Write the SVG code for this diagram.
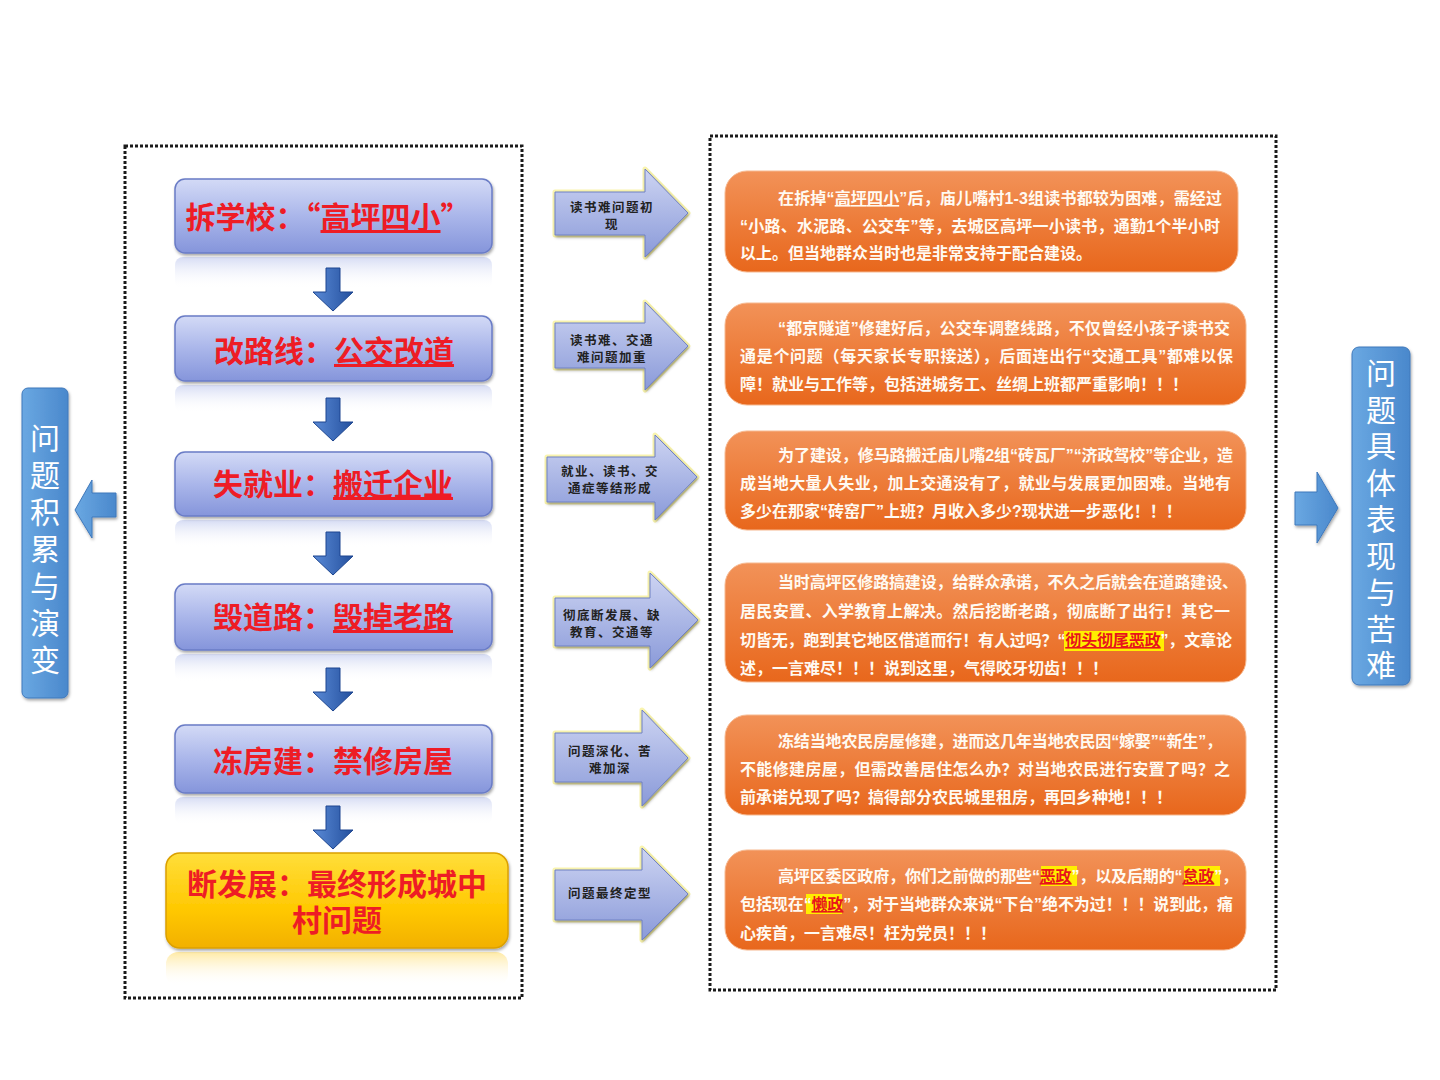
<svg xmlns="http://www.w3.org/2000/svg" width="1440" height="1080" viewBox="0 0 1440 1080">
<defs>
  <linearGradient id="gBlue" x1="0" y1="0" x2="0" y2="1">
    <stop offset="0" stop-color="#d3daf6"/>
    <stop offset="0.5" stop-color="#aab6ea"/>
    <stop offset="1" stop-color="#8595db"/>
  </linearGradient>
  <linearGradient id="gRefl" x1="0" y1="0" x2="0" y2="1">
    <stop offset="0" stop-color="#b4bfeb" stop-opacity="0.55"/>
    <stop offset="1" stop-color="#ffffff" stop-opacity="0"/>
  </linearGradient>
  <linearGradient id="gReflY" x1="0" y1="0" x2="0" y2="1">
    <stop offset="0" stop-color="#ffd54a" stop-opacity="0.5"/>
    <stop offset="1" stop-color="#ffffff" stop-opacity="0"/>
  </linearGradient>
  <linearGradient id="gYellow" x1="0" y1="0" x2="0" y2="1">
    <stop offset="0" stop-color="#ffde3a"/>
    <stop offset="0.6" stop-color="#ffc800"/>
    <stop offset="1" stop-color="#f2b000"/>
  </linearGradient>
  <linearGradient id="gOrange" x1="0" y1="0" x2="0" y2="1">
    <stop offset="0" stop-color="#f29258"/>
    <stop offset="1" stop-color="#e8671c"/>
  </linearGradient>
  <linearGradient id="gArrow" x1="0" y1="0" x2="0" y2="1">
    <stop offset="0" stop-color="#cdd4f2"/>
    <stop offset="1" stop-color="#8a9ad9"/>
  </linearGradient>
  <linearGradient id="gDown" x1="0" y1="0" x2="1" y2="0">
    <stop offset="0" stop-color="#5a8ad6"/>
    <stop offset="1" stop-color="#24509e"/>
  </linearGradient>
  <linearGradient id="gSide" x1="0" y1="0" x2="1" y2="0">
    <stop offset="0" stop-color="#6aa8e2"/>
    <stop offset="1" stop-color="#4a88cc"/>
  </linearGradient>
  <filter id="sh" x="-10%" y="-10%" width="130%" height="140%">
    <feDropShadow dx="1" dy="2" stdDeviation="1.5" flood-color="#000" flood-opacity="0.35"/>
  </filter>
  <path id="darr" d="M326 0 h14 v24 h13 l-20 19 l-20 -19 h13 z"/>
  <style>
    .dot{fill:none;stroke:#1a1a1a;stroke-width:3;stroke-dasharray:3 2}
    .bbox{fill:url(#gBlue);stroke:#6a7cc6;stroke-width:1.5}
    .refl{fill:url(#gRefl)}
    .lbl{font-family:"Noto Sans CJK SC",sans-serif;font-weight:700;font-size:30px;fill:#ee1c25;text-anchor:middle}
    .lbl2{font-family:"Liberation Sans","Noto Sans CJK SC",sans-serif;font-weight:700;font-size:30px;fill:#ee1c25;text-anchor:middle}
    .ul{text-decoration:underline}
    .obox{fill:url(#gOrange);stroke:#f6b88f;stroke-width:1}
    .ot{font-family:"Liberation Sans","Noto Sans CJK SC",sans-serif;font-weight:700;font-size:16px;fill:#fffaf2}
    .hl{fill:#ffee00}
    .hlt{fill:#e8141c;text-decoration:underline}
    .barr{fill:url(#gArrow);stroke:#6f80c4;stroke-width:1}
    .glow{fill:none;stroke:#f8f2a0;stroke-width:5;stroke-linejoin:round;opacity:0.85}
    .at{font-family:"Liberation Serif","Noto Sans CJK SC",serif;font-weight:700;font-size:12.5px;fill:#222;text-anchor:middle;letter-spacing:1.5px}
    .down{fill:url(#gDown);stroke:#1c4590;stroke-width:1}
    .side{fill:url(#gSide);stroke:#3f78bb;stroke-width:1}
    .st{font-family:"Liberation Sans","Noto Sans CJK SC",sans-serif;font-size:30px;fill:#ffffff;text-anchor:middle}
  </style>
</defs>
<rect width="1440" height="1080" fill="#ffffff"/>

<!-- frames -->
<rect class="dot" x="125" y="146" width="397" height="852"/>
<rect class="dot" x="710" y="136" width="566" height="854"/>

<!-- left column nodes -->
<g id="n-school">
  <rect class="refl" x="175" y="257" width="317" height="32" rx="8"/>
  <rect class="bbox" x="175" y="179" width="317" height="74" rx="10" filter="url(#sh)"/>
  <text class="lbl" x="328" y="228">拆学校：“<tspan class="ul">高坪四小</tspan>”</text>
</g>
<g id="n-road">
  <rect class="refl" x="175" y="385" width="317" height="28" rx="8"/>
  <rect class="bbox" x="175" y="316" width="317" height="65" rx="10" filter="url(#sh)"/>
  <text class="lbl" x="334" y="362">改路线：<tspan class="ul">公交改道</tspan></text>
</g>
<g id="n-job">
  <rect class="refl" x="175" y="520" width="317" height="28" rx="8"/>
  <rect class="bbox" x="175" y="452" width="317" height="64" rx="10" filter="url(#sh)"/>
  <text class="lbl" x="333" y="495">失就业：<tspan class="ul">搬迁企业</tspan></text>
</g>
<g id="n-path">
  <rect class="refl" x="175" y="654" width="317" height="28" rx="8"/>
  <rect class="bbox" x="175" y="584" width="317" height="66" rx="10" filter="url(#sh)"/>
  <text class="lbl" x="333" y="628">毁道路：<tspan class="ul">毁掉老路</tspan></text>
</g>
<g id="n-house">
  <rect class="refl" x="175" y="797" width="317" height="28" rx="8"/>
  <rect class="bbox" x="175" y="725" width="317" height="68" rx="10" filter="url(#sh)"/>
  <text class="lbl" x="333" y="772">冻房建：禁修房屋</text>
</g>
<g id="n-final">
  <rect x="166" y="952" width="342" height="34" rx="12" fill="url(#gReflY)"/>
  <rect x="166" y="853" width="342" height="95" rx="14" fill="url(#gYellow)" stroke="#dba000" stroke-width="1.5" filter="url(#sh)"/>
  <text class="lbl2" x="337" y="895">断发展：最终形成城中</text>
  <text class="lbl2" x="337" y="931">村问题</text>
</g>

<!-- side labels -->
<g id="n-left-title">
  <rect class="side" x="22" y="388" width="46" height="310" rx="6" filter="url(#sh)"/>
  <text class="st"><tspan x="45" y="449">问</tspan><tspan x="45" dy="37">题</tspan><tspan x="45" dy="37">积</tspan><tspan x="45" dy="37">累</tspan><tspan x="45" dy="37">与</tspan><tspan x="45" dy="37">演</tspan><tspan x="45" dy="37">变</tspan></text>
</g>
<g id="n-right-title">
  <rect class="side" x="1352" y="347" width="58" height="338" rx="7" filter="url(#sh)"/>
  <text class="st"><tspan x="1381" y="384">问</tspan><tspan x="1381" dy="36.5">题</tspan><tspan x="1381" dy="36.5">具</tspan><tspan x="1381" dy="36.5">体</tspan><tspan x="1381" dy="36.5">表</tspan><tspan x="1381" dy="36.5">现</tspan><tspan x="1381" dy="36.5">与</tspan><tspan x="1381" dy="36.5">苦</tspan><tspan x="1381" dy="36.5">难</tspan></text>
</g>

<!-- orange description nodes -->
<g id="d1">
  <rect class="obox" x="725" y="171" width="513" height="101" rx="22"/>
  <text class="ot" x="778" y="204" textLength="444">在拆掉“<tspan style="text-decoration:underline">高坪四小</tspan>”后，庙儿嘴村1-3组读书都较为困难，需经过</text>
  <text class="ot" x="740" y="232" textLength="480">“小路、水泥路、公交车”等，去城区高坪一小读书，通勤1个半小时</text>
  <text class="ot" x="740" y="259">以上。但当地群众当时也是非常支持于配合建设。</text>
</g>
<g id="d2">
  <rect class="obox" x="725" y="303" width="521" height="102" rx="22"/>
  <text class="ot" x="778" y="334" textLength="452">“都京隧道”修建好后，公交车调整线路，不仅曾经小孩子读书交</text>
  <text class="ot" x="740" y="362" textLength="493">通是个问题（每天家长专职接送），后面连出行“交通工具”都难以保</text>
  <text class="ot" x="740" y="390">障！就业与工作等，包括进城务工、丝绸上班都严重影响！！！</text>
</g>
<g id="d3">
  <rect class="obox" x="725" y="431" width="521" height="99" rx="22"/>
  <text class="ot" x="778" y="461" textLength="455">为了建设，修马路搬迁庙儿嘴2组“砖瓦厂”“济政驾校”等企业，造</text>
  <text class="ot" x="740" y="489" textLength="491">成当地大量人失业，加上交通没有了，就业与发展更加困难。当地有</text>
  <text class="ot" x="740" y="517">多少在那家“砖窑厂”上班？月收入多少?现状进一步恶化！！！</text>
</g>
<g id="d4">
  <rect class="obox" x="725" y="563" width="521" height="119" rx="22"/>
  <rect class="hl" x="1064" y="631" width="100" height="20"/>
  <text class="ot" x="778" y="588" textLength="460">当时高坪区修路搞建设，给群众承诺，不久之后就会在道路建设、</text>
  <text class="ot" x="740" y="617" textLength="490">居民安置、入学教育上解决。然后挖断老路，彻底断了出行！其它一</text>
  <text class="ot" x="740" y="646" textLength="492">切皆无，跑到其它地区借道而行！有人过吗？“<tspan class="hlt">彻头彻尾恶政</tspan>”，文章论</text>
  <text class="ot" x="740" y="674">述，一言难尽！！！说到这里，气得咬牙切齿！！！</text>
</g>
<g id="d5">
  <rect class="obox" x="725" y="715" width="521" height="100" rx="22"/>
  <text class="ot" x="778" y="747" textLength="444">冻结当地农民房屋修建，进而这几年当地农民因“嫁娶”“新生”，</text>
  <text class="ot" x="740" y="775" textLength="490">不能修建房屋，但需改善居住怎么办？对当地农民进行安置了吗？之</text>
  <text class="ot" x="740" y="803">前承诺兑现了吗？搞得部分农民城里租房，再回乡种地！！！</text>
</g>
<g id="d6">
  <rect class="obox" x="725" y="850" width="521" height="100" rx="22"/>
  <rect class="hl" x="1041" y="866" width="36" height="20"/>
  <rect class="hl" x="1184" y="866" width="36" height="20"/>
  <rect class="hl" x="806" y="894" width="36" height="20"/>
  <text class="ot" x="778" y="882" textLength="460">高坪区委区政府，你们之前做的那些“<tspan class="hlt">恶政</tspan>”，以及后期的“<tspan class="hlt">怠政</tspan>”，</text>
  <text class="ot" x="740" y="910" textLength="493">包括现在“<tspan class="hlt">懒政</tspan>”，对于当地群众来说“下台”绝不为过！！！说到此，痛</text>
  <text class="ot" x="740" y="939">心疾首，一言难尽！枉为党员！！！</text>
</g>

<!-- connectors -->
<g id="connectors">
  <use href="#darr" class="down" y="268"/>
  <use href="#darr" class="down" y="398"/>
  <use href="#darr" class="down" y="532"/>
  <use href="#darr" class="down" y="668"/>
  <use href="#darr" class="down" y="806"/>

  <path class="glow" d="M555 192 H645 V169 L688 213 L645 257 V235 H555 Z"/>
  <path class="barr" d="M555 192 H645 V169 L688 213 L645 257 V235 H555 Z" filter="url(#sh)"/>
  <text class="at" x="612" y="212">读书难问题初</text>
  <text class="at" x="612" y="229">现</text>

  <path class="glow" d="M555 323 H645 V302 L688 346 L645 390 V368 H555 Z"/>
  <path class="barr" d="M555 323 H645 V302 L688 346 L645 390 V368 H555 Z" filter="url(#sh)"/>
  <text class="at" x="612" y="345">读书难、交通</text>
  <text class="at" x="612" y="362">难问题加重</text>

  <path class="glow" d="M547 457 H655 V435 L697 477 L655 520 V502 H547 Z"/>
  <path class="barr" d="M547 457 H655 V435 L697 477 L655 520 V502 H547 Z" filter="url(#sh)"/>
  <text class="at" x="610" y="476">就业、读书、交</text>
  <text class="at" x="610" y="493">通症等结形成</text>

  <path class="glow" d="M555 598 H650 V573 L698 620 L650 668 V646 H555 Z"/>
  <path class="barr" d="M555 598 H650 V573 L698 620 L650 668 V646 H555 Z" filter="url(#sh)"/>
  <text class="at" x="612" y="620">彻底断发展、缺</text>
  <text class="at" x="612" y="637">教育、交通等</text>

  <path class="glow" d="M555 733 H642 V710 L688 758 L642 806 V782 H555 Z"/>
  <path class="barr" d="M555 733 H642 V710 L688 758 L642 806 V782 H555 Z" filter="url(#sh)"/>
  <text class="at" x="610" y="756">问题深化、苦</text>
  <text class="at" x="610" y="773">难加深</text>

  <path class="glow" d="M555 870 H642 V848 L688 894 L642 940 V920 H555 Z"/>
  <path class="barr" d="M555 870 H642 V848 L688 894 L642 940 V920 H555 Z" filter="url(#sh)"/>
  <text class="at" x="610" y="898">问题最终定型</text>

  <path class="side" d="M75 510 L92 480 V493 H116 V517 H92 V538 Z" filter="url(#sh)"/>
  <path class="side" d="M1295 492 H1317 V472 L1338 508 L1317 543 V525 H1295 Z" filter="url(#sh)"/>
</g>
</svg>
